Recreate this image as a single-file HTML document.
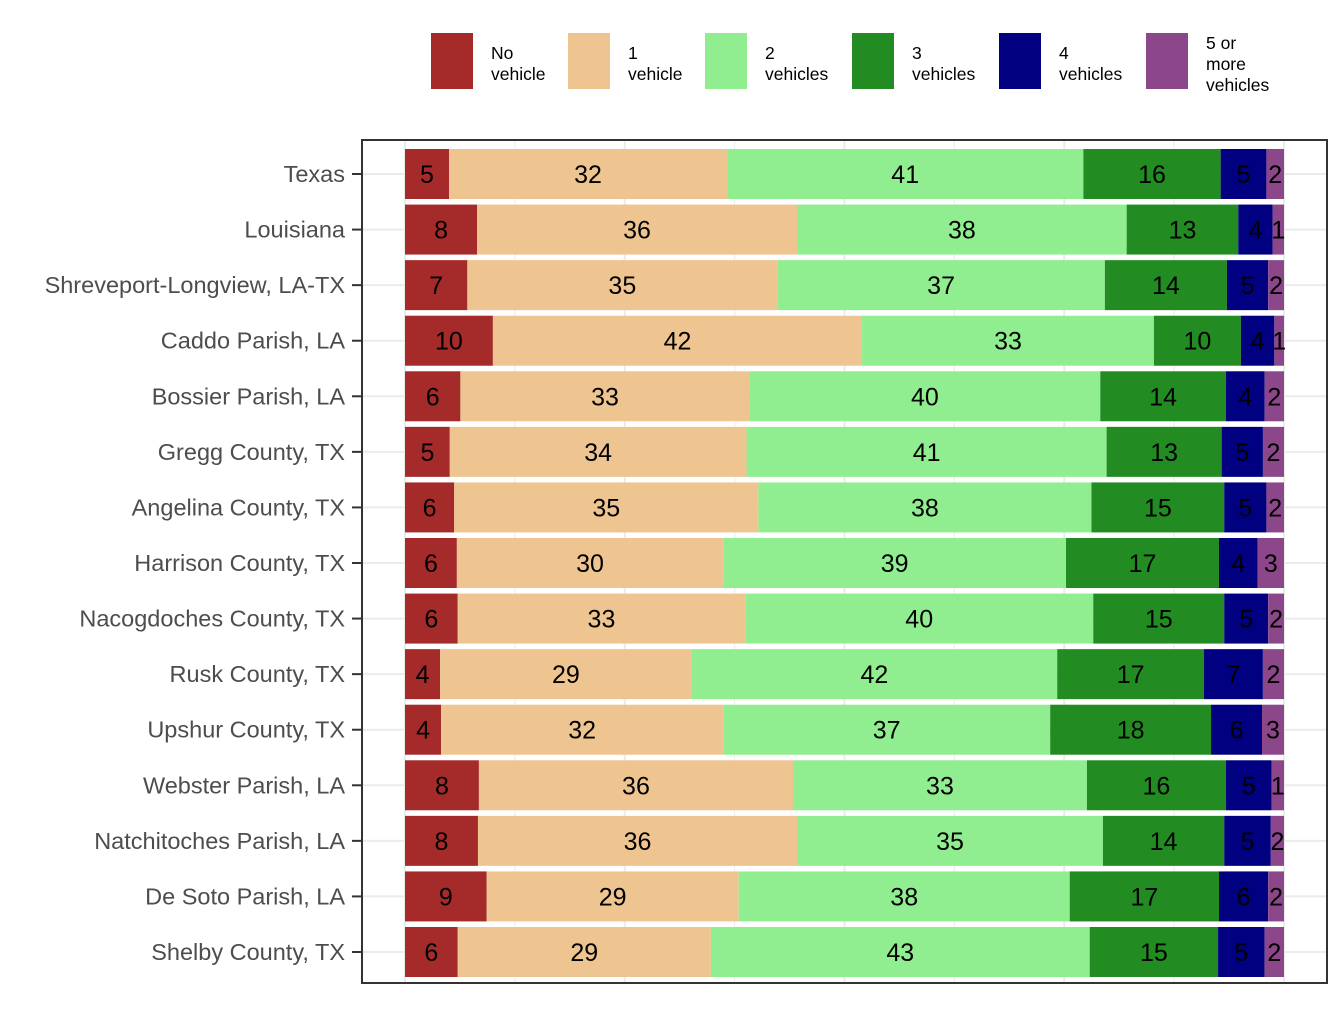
<!DOCTYPE html>
<html><head><meta charset="utf-8"><style>
body{margin:0;background:#fff;}
svg text{font-family:"Liberation Sans",Arial,sans-serif;}
</style></head><body>
<svg id="chart" width="1344" height="1008" xmlns="http://www.w3.org/2000/svg">
<g id="legend"></g>
<g id="grid"></g>
<g id="bars"></g>
<g id="yaxis"></g>
<rect x="362" y="140" width="965" height="843" fill="none" stroke="#333" stroke-width="2"/>
</svg>
<script>
const categories=["Texas","Louisiana","Shreveport-Longview, LA-TX","Caddo Parish, LA","Bossier Parish, LA","Gregg County, TX","Angelina County, TX","Harrison County, TX","Nacogdoches County, TX","Rusk County, TX","Upshur County, TX","Webster Parish, LA","Natchitoches Parish, LA","De Soto Parish, LA","Shelby County, TX"];
const seriesNames=["No\nvehicle","1\nvehicle","2\nvehicles","3\nvehicles","4\nvehicles","5 or\nmore\nvehicles"];
const noVehicle=[5.0,8.2,7.1,10.0,6.3,5.1,5.6,5.9,6.0,4.0,4.1,8.4,8.3,9.3,6.0];
const oneVehicle=[31.6,36.4,35.3,42.0,32.9,33.8,34.6,30.3,32.7,28.6,32.1,35.7,36.3,28.7,28.8];
const twoVehicles=[40.5,37.5,37.3,33.2,39.9,41.0,37.9,39.0,39.6,41.6,37.2,33.4,34.8,37.7,43.1];
const threeVehicles=[15.6,12.7,13.9,9.9,14.3,13.1,15.1,17.4,14.9,16.7,18.3,15.8,13.8,17.0,14.6];
const fourVehicles=[5.2,3.9,4.7,3.8,4.4,4.7,4.8,4.4,5.0,6.7,5.8,5.2,5.3,5.6,5.3];
const fivePlus=[2.0,1.3,1.8,1.1,2.2,2.4,2.0,3.0,1.8,2.4,2.5,1.4,1.5,1.8,2.2];
const gridTicks=[0,12.5,25,37.5,50,62.5,75,87.5,100];

const series=[noVehicle,oneVehicle,twoVehicles,threeVehicles,fourVehicles,fivePlus];
const colors=["#a52a2a","#eec591","#90ee90","#228b22","#000080","#8b4789"];
const NS="http://www.w3.org/2000/svg";
const x0=405,x1=1284;
const xs=v=>x0+(x1-x0)*v/100;
const rowStep=(952-174)/(categories.length-1);
const ys=i=>174+i*rowStep;
const barH=50;
function mk(tag,attrs,parent){const e=document.createElementNS(NS,tag);for(const k in attrs)e.setAttribute(k,attrs[k]);parent.appendChild(e);return e;}
const grid=document.getElementById('grid');
gridTicks.forEach(t=>{
  const l=mk('line',{x1:xs(t),x2:xs(t),y1:141,y2:982,stroke:'#ebebeb','stroke-width':(t%25===0)?2:1},grid);
  
  
});
categories.forEach((c,i)=>{
  const l=mk('line',{x1:363,x2:1326,y1:ys(i),y2:ys(i),stroke:'#ebebeb','stroke-width':2},grid);
  
  
});
const bars=document.getElementById('bars');
const yaxis=document.getElementById('yaxis');
categories.forEach((c,i)=>{
  const tot=series.reduce((a,s)=>a+s[i],0);
  let cum=0;
  series.forEach((s,k)=>{
    const v=s[i]/tot*100;
    const xa=xs(cum),xb=xs(cum+v);
    const r=mk('rect',{x:xa,y:ys(i)-barH/2,width:xb-xa,height:barH,fill:colors[k]},bars);
    
    
    const t=mk('text',{x:(xa+xb)/2,y:ys(i)+9,'text-anchor':'middle','font-size':25,fill:'#000'},bars);
    
    
    t.textContent=Math.round(s[i]);
    cum+=v;
  });
  const lab=mk('text',{x:345,y:ys(i)+8,'text-anchor':'end','font-size':23.5,fill:'#4d4d4d'},yaxis);
  
  
  lab.textContent=c;
  const tk=mk('line',{x1:352,x2:362,y1:ys(i),y2:ys(i),stroke:'#333','stroke-width':2},yaxis);
  
  
});
const legend=document.getElementById('legend');
const keyX=[431,568,705,852,999,1146];
seriesNames.forEach((n,k)=>{
  const g=mk('g',{},legend);
  
  
  mk('rect',{x:keyX[k],y:33,width:42,height:56,fill:colors[k]},g);
  const lines=n.split('\n');
  const startY=lines.length===3?49:59;
  lines.forEach((ln,j)=>{
    const t=mk('text',{x:keyX[k]+60,y:startY+j*21,'font-size':17.5,fill:'#000'},g);
    t.textContent=ln;
  });
});
</script>
</body></html>
